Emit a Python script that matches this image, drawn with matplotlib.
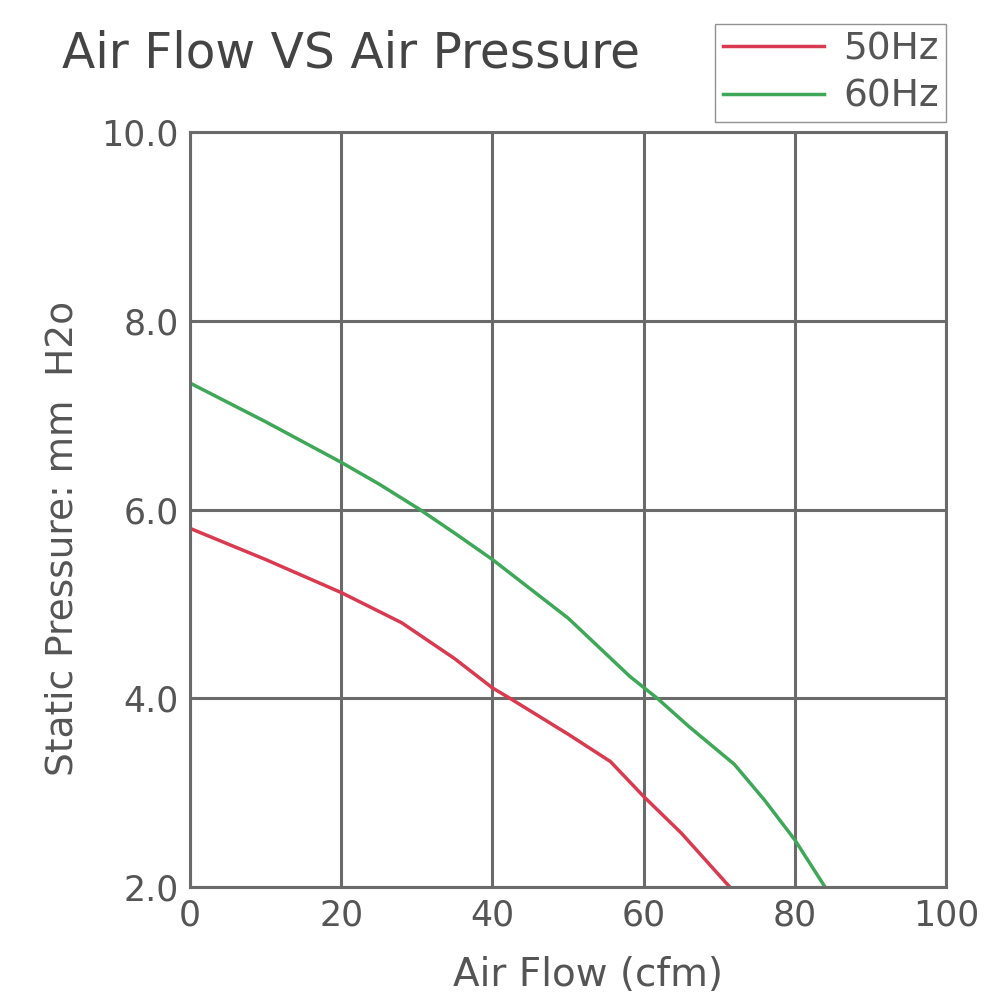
import matplotlib.pyplot as plt
import numpy as np

# Daten
flow_50 = [0, 10, 20, 28, 35, 40, 42.3, 50, 55.6, 60, 65, 71.4]
press_50 = [5.80, 5.47, 5.12, 4.80, 4.42, 4.11, 4.0, 3.62, 3.33, 2.96, 2.57, 2.0]

flow_60 = [0, 10, 20, 25, 30.4, 35, 40, 50, 58.2, 61.8, 66, 72, 76, 80, 84]
press_60 = [7.34, 6.93, 6.50, 6.27, 6.0, 5.75, 5.47, 4.85, 4.23, 4.0, 3.70, 3.30, 2.92, 2.50, 2.0]

x_ticks = [0, 20, 40, 60, 80, 100]
y_ticks = [2.0, 4.0, 6.0, 8.0, 10.0]

txt = "#555555"
grid = "#6a6a6a"

plt.rcParams['font.family'] = ['DejaVu Sans']
fig = plt.figure(figsize=(10, 10), dpi=100, facecolor="white")
ax = fig.add_axes([0.19, 0.113, 0.756, 0.755])

ax.plot(flow_50, press_50, color="#d93a50", lw=2.5, label="50Hz")
ax.plot(flow_60, press_60, color="#3fa758", lw=2.5, label="60Hz")

ax.set_xlim(0, 100)
ax.set_ylim(2, 10)
ax.set_xticks(x_ticks)
ax.set_yticks(y_ticks)
ax.set_xticklabels([str(t) for t in x_ticks])
ax.set_yticklabels(["%.1f" % t for t in y_ticks])
ax.tick_params(length=0, labelsize=25, colors=txt, pad=8)
ax.grid(True, color=grid, lw=2.2)
for s in ax.spines.values():
    s.set_color(grid)
    s.set_linewidth(2.2)

fig.text(0.062, 0.947, "Air Flow VS Air Pressure", fontsize=35, color="#444444",
         ha="left", va="center")
fig.text(0.588, 0.025, "Air Flow (cfm)", fontsize=28, color=txt, ha="center", va="center")
fig.text(0.063, 0.462, "Static Pressure: mm  H2o", fontsize=27, color=txt,
         ha="center", va="center", rotation=90)

fig.legend(loc="upper right", bbox_to_anchor=(0.946, 0.976), fontsize=27,
           frameon=True, fancybox=False, edgecolor="#777777", labelcolor=txt,
           handlelength=2.7, handletextpad=0.5, borderpad=0.2, labelspacing=0.3,
           borderaxespad=0)

plt.savefig("out.png", dpi=100)
